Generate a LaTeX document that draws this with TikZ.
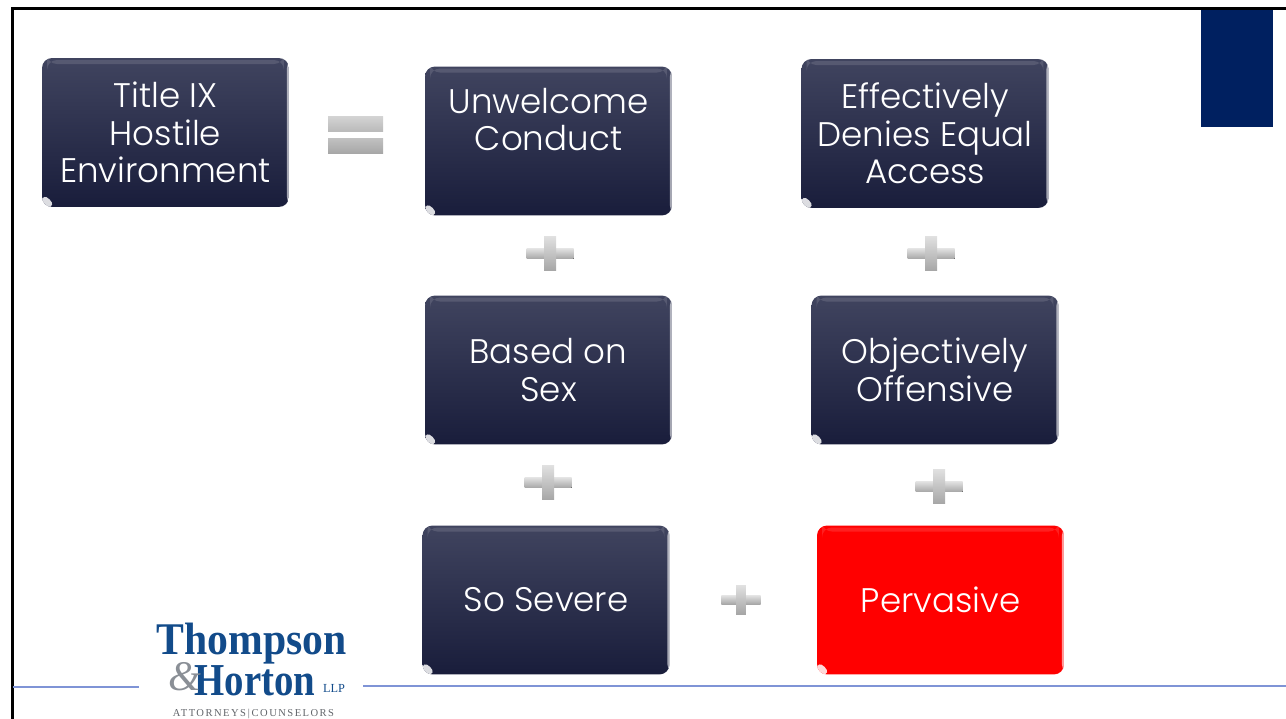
\documentclass[tikz,border=0pt]{standalone}
\usepackage{fontspec}
\setmainfont{Poppins Light}
\newfontfamily\logofont{Liberation Serif}
\newfontfamily\tagfont[LetterSpace=14]{Liberation Serif}
\definecolor{boxtop}{HTML}{40445F}
\definecolor{boxbottom}{HTML}{191D3B}
\definecolor{logoblue}{HTML}{124B8A}
\definecolor{logogray}{HTML}{8A8F96}
\definecolor{navyblock}{HTML}{002060}
\definecolor{ruleblue}{HTML}{7F94D6}
\tikzset{
  titlebox/.style={rectangle, rounded corners=0.2cm, minimum width=4.94cm, minimum height=2.98cm,
    inner sep=0pt, align=center, text=white, font=\fontsize{19.4}{21.3}\selectfont,
    path picture={
      \fill[white, opacity=.12] ([shift={(0.1cm,-0.04cm)}]path picture bounding box.north west) rectangle ([shift={(-0.1cm,-0.12cm)}]path picture bounding box.north east);
      \fill[white, opacity=.6] ([xshift=-0.04cm]path picture bounding box.south east) rectangle (path picture bounding box.north east);
      \fill[white, opacity=.85] ([yshift=0.3cm]path picture bounding box.south west) -- ([xshift=0.3cm]path picture bounding box.south west) -- (path picture bounding box.south west) -- cycle;
    }},
  darkbox/.style={titlebox, top color=boxtop, bottom color=boxbottom},
  redbox/.style={titlebox, fill=red},
  plusbar/.style={top color=gray!25, bottom color=gray!70},
  equalbar/.style={top color=gray!35, bottom color=gray!55},
  plusmark/.pic={
    \fill[plusbar] (-23.5,-5) rectangle (23.5,5);
    \fill[plusbar] (-6,-17) rectangle (6,17);
  },
}
\begin{document}
\begin{tikzpicture}[x=0.02cm, y=-0.02cm]
\useasboundingbox (0,0) rectangle (1286,719);
% frame
\fill[navyblock] (1201,8) rectangle (1273,127);
\fill[black] (11,7) rectangle (1286,10);
\fill[black] (11,7) rectangle (13.5,719);
% boxes
\node[darkbox] (title) at (165.5,132.5) {Title IX\\Hostile\\Environment};
\node[darkbox] (unwelcome) at (548.5,141) {Unwelcome\\Conduct\\[0.12cm]\mbox{}};
\node[darkbox] (denies) at (925,133.5) {Effectively\\Denies Equal\\Access};
\node[darkbox] (sex) at (548.5,370) {Based on\\Sex};
\node[darkbox] (offensive) at (935,370) {Objectively\\Offensive};
\node[darkbox] (severe) at (546,600) {So Severe};
\node[redbox] (pervasive) at (940.5,600) {Pervasive};
% equals
\fill[equalbar] (328,117) rectangle (383,132);
\fill[equalbar, top color=gray!50, bottom color=gray!70] (328,139) rectangle (383,154);
% plus signs
\pic (plusA) at (550,254) {plusmark};
\pic (plusB) at (931,254) {plusmark};
\pic (plusC) at (548,483) {plusmark};
\pic (plusD) at (939,487) {plusmark};
\pic[scale=.83] (plusE) at (741,600) {plusmark};
% bottom rule
\coordinate (ruleA) at (13,687);
\coordinate (ruleB) at (139,687);
\coordinate (ruleC) at (363,686);
\coordinate (ruleD) at (1286,686);
\draw[ruleblue, line width=0.6pt] (ruleA) -- (ruleB);
\draw[ruleblue, line width=0.6pt] (ruleC) -- (ruleD);
% logo
\node[inner sep=0pt, text=logoblue, font=\logofont\fontsize{25.8}{26}\selectfont\bfseries] (thompson) at (251.5,644) {\scalebox{.92}[1]{Thompson}};
\node[inner sep=0pt, text=logoblue, font=\logofont\fontsize{26}{26}\selectfont\bfseries] (horton) at (255,681) {\scalebox{.85}[1]{Horton}};
\node[inner sep=0pt, text=logogray, font=\logofont\itshape\fontsize{24}{24}\selectfont] (amp) at (185,677) {\&};
\node[inner sep=0pt, text=logoblue, font=\logofont\fontsize{7}{7}\selectfont] (llp) at (334,688) {LLP};
\node[inner sep=0pt, text=logogray!70!black, font=\tagfont\fontsize{6}{6}\selectfont] (tagline) at (253.5,714) {ATTORNEYS\,|\,COUNSELORS};
\end{tikzpicture}
\end{document}
